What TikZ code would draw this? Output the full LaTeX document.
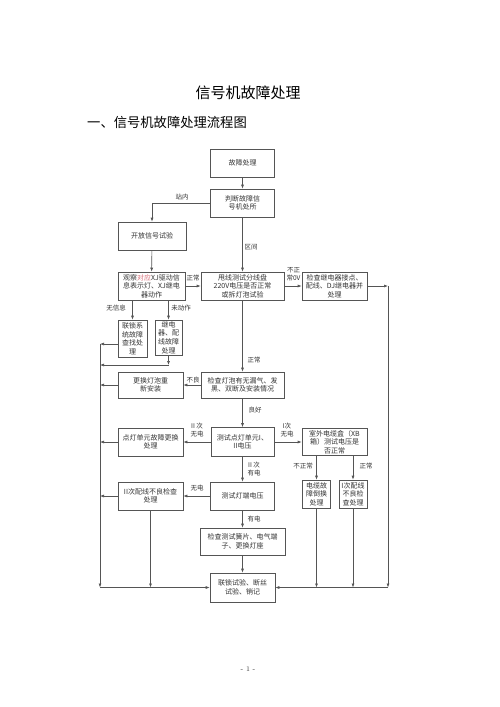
\documentclass[tikz,border=0pt]{standalone}
\usepackage{fontspec}
\newfontfamily\cjk{Noto Sans CJK SC}
\usetikzlibrary{arrows.meta}
\definecolor{linegray}{HTML}{555555}
\definecolor{textgray}{HTML}{333333}
\definecolor{markred}{HTML}{D9707A}
\tikzset{
  box/.style={draw=linegray, line width=0.6pt, align=center, inner sep=0pt,
    text=textgray, font=\cjk\fontsize{7}{8.6}\selectfont},
  tag/.style={text=textgray, align=center, inner sep=0pt,
    font=\cjk\fontsize{6.5}{8}\selectfont},
  flow/.style={draw=linegray, line width=0.6pt, -{Latex[length=4pt,width=3pt]}},
}
\begin{document}
\begin{tikzpicture}[x=1pt,y=-1pt]
            \fill[white] (0,0) rectangle (500,707);
            \useasboundingbox (0,0) rectangle (500,707);

            \node[font=\cjk\fontsize{15}{15}\selectfont] (title) at (248,93) {信号机故障处理};
            \node[font=\cjk\fontsize{13.3}{13.3}\selectfont, anchor=west, inner sep=0pt] (subtitle) at (87,122) {一、信号机故障处理流程图};

            \node[box, minimum width=64pt, minimum height=28pt] (fault) at (242.5,163) {故障处理};
            \node[box, minimum width=64pt, minimum height=28pt] (judge) at (242.5,203) {判断故障信\\号机处所};
            \node[box, minimum width=68pt, minimum height=28pt] (opensig) at (152,236) {开放信号试验};
            \node[box, minimum width=67pt, minimum height=28pt] (observe) at (151.5,286) {观察\textcolor{markred}{对应}XJ驱动信\\息表示灯、XJ继电\\器动作};
            \node[box, minimum width=83pt, minimum height=28pt] (overline) at (242.5,286) {甩线测试分线盘\\220V电压是否正常\\或拆灯泡试验};
            \node[box, minimum width=65pt, minimum height=28pt] (relay) at (334.5,286) {检查继电器接点、\\配线、DJ继电器并\\处理};
            \node[box, minimum width=29pt, minimum height=37pt] (interlock) at (132.5,338.5) {联锁系\\统故障\\查找处\\理};
            \node[box, minimum width=27pt, minimum height=35pt] (microrelay) at (168.5,337.5) {继电\\器、配\\线故障\\处理};
            \node[box, minimum width=83pt, minimum height=26pt] (bulbcheck) at (242.5,385) {检查灯泡有无漏气、发\\黑、双断及安装情况};
            \node[box, minimum width=65pt, minimum height=26pt] (bulbswap) at (150.5,385) {更换灯泡重\\新安装};
            \node[box, minimum width=63pt, minimum height=29pt] (unitvolt) at (242.5,442) {测试点灯单元I、\\II电压};
            \node[box, minimum width=65pt, minimum height=28pt] (unitswap) at (150.5,442) {点灯单元故障更换\\处理};
            \node[box, minimum width=65pt, minimum height=27pt] (outdoor) at (334.5,442) {室外电缆盒（XB\\箱）测试电压是\\否正常};
            \node[box, minimum width=28pt, minimum height=28pt] (cable) at (316.5,494) {电缆故\\障倒换\\处理};
            \node[box, minimum width=28pt, minimum height=28pt] (wireI) at (353,494) {I次配线\\不良检\\查处理};
            \node[box, minimum width=65pt, minimum height=28pt] (wireII) at (150.5,496) {II次配线不良检查\\处理};
            \node[box, minimum width=64pt, minimum height=28pt] (lampvolt) at (242.5,496) {测试灯端电压};
            \node[box, minimum width=85pt, minimum height=27pt] (reed) at (242.5,541.5) {检查测试簧片、电气端\\子、更换灯座};
            \node[box, minimum width=65pt, minimum height=29pt] (final) at (242.5,587.5) {联锁试验、断丝\\试验、销记};

            \coordinate (leftTop) at (100,344);
            \coordinate (leftBot) at (100,587.5);
            \coordinate (rightTop) at (388,286);
            \coordinate (rightBot) at (388,587.5);
            \coordinate (mrTurn) at (168.5,365);

            \draw[flow] (fault) -- (judge);
            \draw[flow] (judge.west) -| (opensig.north);
            \node[tag] (tIn) at (182,197) {站内};
            \draw[flow] (opensig) -- (observe);
            \draw[flow] (judge) -- (overline);
            \node[tag] (tSection) at (251,247) {区间};

            \draw[flow] (observe) -- (overline);
            \node[tag] (tOk1) at (193,278) {正常};
            \draw[flow] (overline) -- (relay);
            \node[tag] (tZero) at (293.5,274) {不正\\常0V};
            \draw[flow] (relay.east) -- (rightTop);
            \draw[flow] (rightTop) -- (rightBot);
            \draw[flow] (rightBot) -- (final.east);

            \draw[flow] (interlock.north |- observe.south) -- (interlock.north);
            \node[tag] (tNoInfo) at (116,308) {无信息};
            \draw[flow] (microrelay.north |- observe.south) -- (microrelay.north);
            \node[tag] (tNoAct) at (181,308) {未动作};
            \draw[flow] ([yshift=-5.5pt]interlock.west) -- (leftTop);
            \draw[flow] (microrelay.south) -- (mrTurn);
            \draw[flow] (mrTurn) -- (mrTurn -| leftTop);
            \draw[flow] (leftTop) -- (leftBot);
            \draw[flow] (leftBot) -- (final.west);

            \draw[flow] (overline) -- (bulbcheck);
            \node[tag] (tOk2) at (254,360) {正常};
            \draw[flow] (bulbcheck) -- (bulbswap);
            \node[tag] (tBad) at (193,380) {不良};
            \draw[flow] (bulbswap.west) -- (bulbswap.west -| leftTop);
            \draw[flow] (bulbcheck) -- (unitvolt);
            \node[tag] (tGood) at (255,410) {良好};

            \draw[flow] (unitvolt) -- (unitswap);
            \node[tag] (tNoII) at (197,430) {II 次\\无电};
            \draw[flow] (unitswap.west) -- (unitswap.west -| leftTop);
            \draw[flow] (unitvolt) -- (outdoor);
            \node[tag] (tNoI) at (287,430) {I次\\无电};
            \draw[flow] (cable.north |- outdoor.south) -- (cable.north);
            \node[tag] (tBad2) at (303,466) {不正常};
            \draw[flow] (wireI.north |- outdoor.south) -- (wireI.north);
            \node[tag] (tOk3) at (366,466) {正常};
            \draw[flow] (cable.south) -- (cable.south |- rightBot);
            \draw[flow] (wireI.south) -- (wireI.south |- rightBot);

            \draw[flow] (unitvolt) -- (lampvolt);
            \node[tag] (tHasII) at (254,469) {II 次\\有电};
            \draw[flow] (lampvolt) -- (wireII);
            \node[tag] (tNo) at (197,488) {无电};
            \draw[flow] (wireII.west) -- (wireII.west -| leftTop);
            \draw[flow] (wireII.south) -- (wireII.south |- leftBot);
            \draw[flow] (lampvolt) -- (reed);
            \node[tag] (tHas) at (254,519) {有电};
            \draw[flow] (reed) -- (final);

            \node[font=\fontsize{7}{7}\selectfont, text=textgray] (pageno) at (248,669) {- 1 -};
\end{tikzpicture}
\end{document}
